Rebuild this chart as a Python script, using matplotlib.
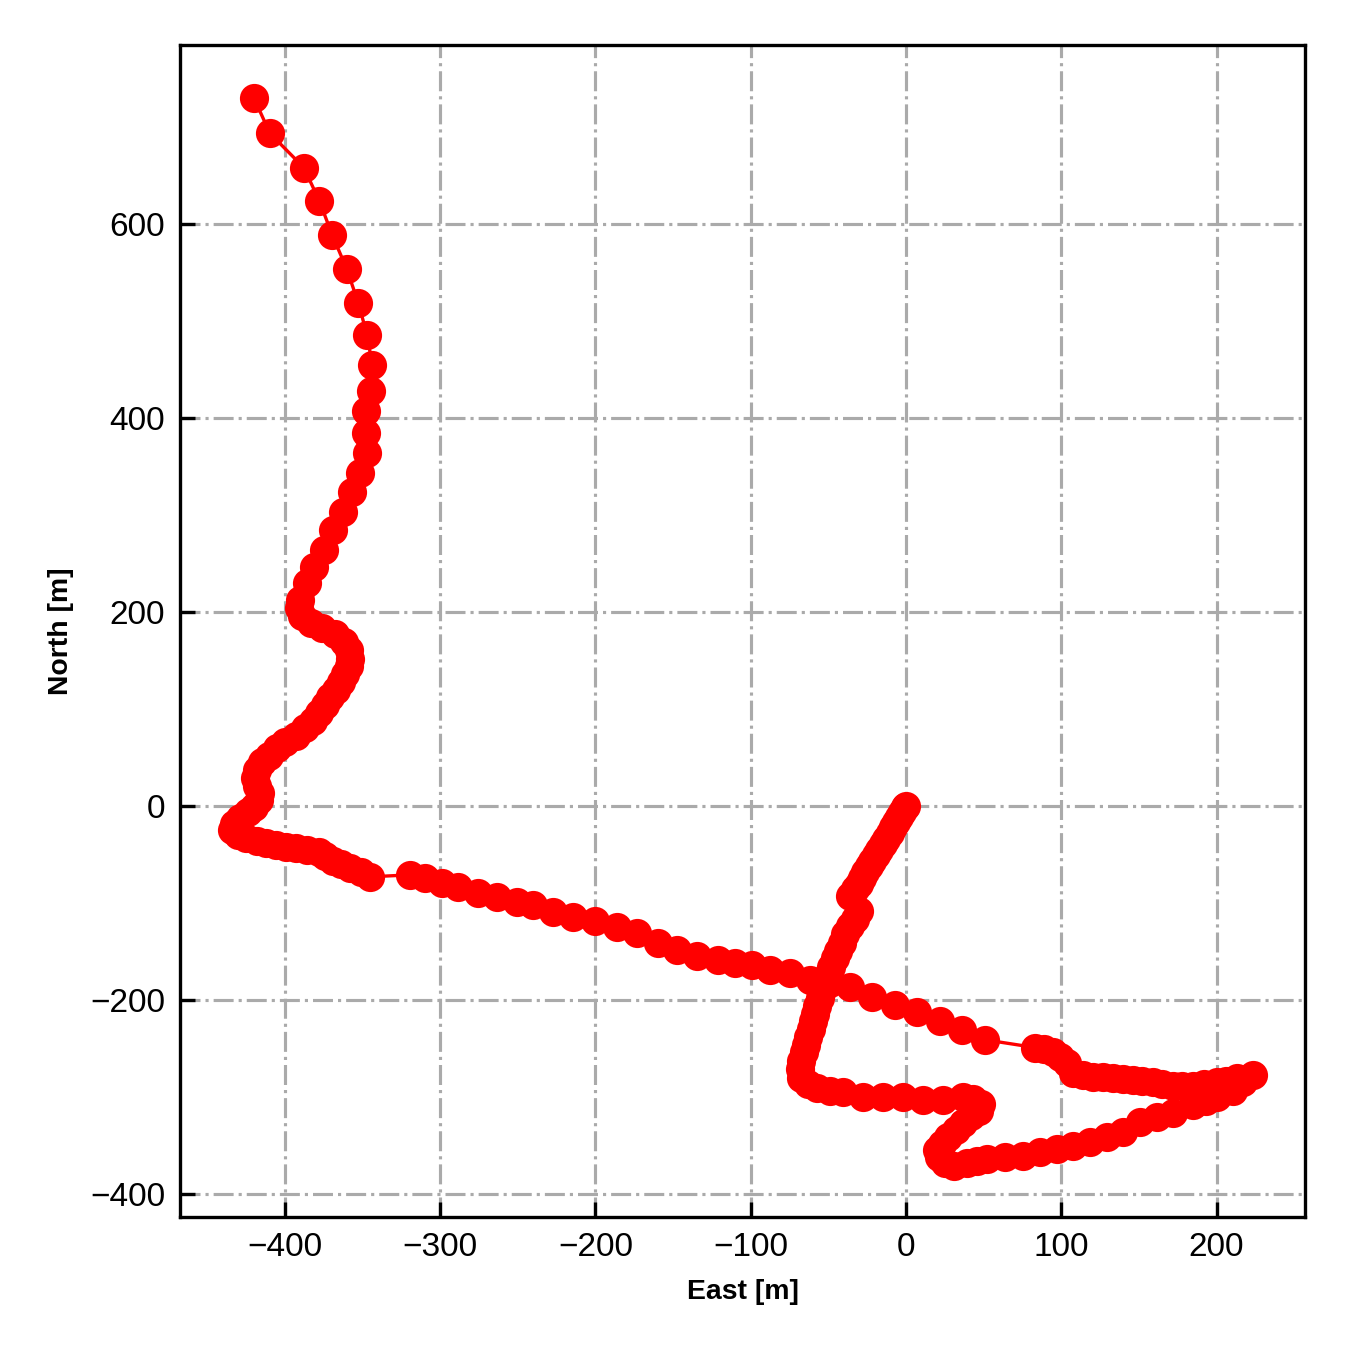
import matplotlib
matplotlib.use("Agg")
import matplotlib.pyplot as plt

plt.rcParams['font.family'] = ['Liberation Sans', 'DejaVu Sans']

# Trajectory (East, North) in metres
east = [
    # leg from origin heading south-west
    0, -0.5, -2.5, -4.5, -6.5, -8.5, -10.5, -13, -15, -17.5, -19.5, -22, -24, -26.5,
    -28.5, -30.5, -33, -36, -30, -33, -36, -39, -41.5, -44, -46, -48, -50, -52, -54,
    -55.5, -57, -58.5, -60, -61.5, -63, -64.5, -66, -67.5, -68.5, -67.5, -63, -57, -49,
    # eastward row
    -40.6, -27.7, -14.8, -1.9, 11, 23.8, 36.7,
    # zig-zag
    43, 48, 47, 42, 37, 32, 27, 23, 20, 21, 25, 31, 39, 46,
    # lower leg to the east tip
    52.2, 63.8, 75.4, 86.3, 97.3, 107.6, 118.5, 129.5, 139.8, 150.7, 161.7, 172,
    184.9, 193, 200.3, 210.6, 217, 223.5,
    # upper return leg
    213.2, 206, 200.3, 192, 184.9, 178, 172, 165, 159.1, 152, 146.2, 140, 133.3, 127,
    120.5, 114, 107.6, 103.7, 99, 94.7, 89, 83.1,
    # long leg to the west
    50.9, 36.1, 21.9, 7.1, -7.1, -21.9, -36.1, -49, -61.8, -74.7, -87.6, -99.2, -110.1,
    -121.1, -134.6, -147.5, -159.7, -173.3, -186.2, -200.3, -214.5, -227.4, -240.3,
    -250.6, -263.4, -275.7, -288.6, -299.1, -310, -319.5,
    # western section
    -345, -351, -358, -364, -369, -374, -378, -386, -393, -399, -406, -412, -418,
    -425, -430, -434, -433, -429, -424, -420, -417, -416, -418, -419, -418, -415, -410,
    -405, -400, -393, -387, -382, -378, -374, -371, -367, -364, -361, -359, -358, -359,
    -362, -368, -376, -383, -389, -391, -390.3, -386, -381.3, -374.9, -369.1, -362.8,
    -357, -351.7, -347.4,
    # northern leg
    -347.8, -347.8, -344.4, -343.8, -347, -352.8, -360.3, -369.5, -377.9, -387.8,
    -409.7, -420]
north = [
    0, -1, -6, -11, -17, -22, -28, -34, -39, -45, -51, -57, -62, -68,
    -74, -80, -86, -93, -108, -116, -124, -132, -141, -149, -157, -166, -174, -182, -190,
    -198, -206, -214, -222, -230, -238, -246, -254, -263, -271, -280, -287, -291, -294,
    -295, -300, -300, -300, -303, -303, -300,
    -302, -307, -314, -320, -327, -334, -341, -348, -355, -362, -368, -371, -368, -366,
    -364, -362, -361, -357, -354, -351, -346, -341, -336, -326, -321, -316,
    -308, -304, -300, -294, -284, -277,
    -280, -283, -285, -287, -289, -289, -289, -287, -285, -283, -282, -281, -280, -279,
    -279, -277, -275, -265, -259, -254, -251, -249,
    -241, -231, -222, -212, -205, -197, -187, -182, -179, -172, -169, -164, -162,
    -159, -155, -148, -141, -131, -125, -119, -114, -109, -102,
    -99, -94, -90, -83, -79, -74, -71,
    -73, -68, -64, -60, -57, -52, -47, -45, -43.5, -42, -40, -38.5, -36,
    -33, -30, -25, -19, -12, -6, -1, 6, 13, 21, 29, 37, 45, 52,
    60, 66, 72, 80, 88, 96, 104, 112, 120, 128, 136, 144, 152, 161,
    169, 177, 183, 189, 196, 204, 212, 230, 246, 264, 284, 303,
    323.5, 343, 364,
    385, 407, 428, 455, 485, 519, 554, 588.5, 624, 658,
    693.5, 730]

x_ticks = [-400, -300, -200, -100, 0, 100, 200]
y_ticks = [-400, -200, 0, 200, 400, 600]

fig = plt.figure(figsize=(4.5, 4.5), dpi=300)
ax = fig.add_axes([0.1333, 0.0985, 0.8334, 0.8682])

ax.plot(east, north, '-', color='red', lw=0.8, zorder=3)
ax.plot(east, north, 'o', color='red', ms=6.4, mew=0.6, zorder=4)

ax.set_xlim(-467.6, 257)
ax.set_ylim(-423.7, 784.5)
ax.set_xticks(x_ticks)
ax.set_yticks(y_ticks)
ax.grid(True, color='#aaaaaa', linestyle='-.', linewidth=0.75, zorder=0)
ax.set_axisbelow(True)
ax.tick_params(direction='in', labelsize=8, width=0.8, length=3.5, color='black')
for s in ax.spines.values():
    s.set_linewidth(0.8)
ax.set_xlabel('East [m]', fontsize=6.8, fontweight='bold')
ax.set_ylabel('North [m]', fontsize=6.8, fontweight='bold')

fig.savefig('out.png', dpi=300)
